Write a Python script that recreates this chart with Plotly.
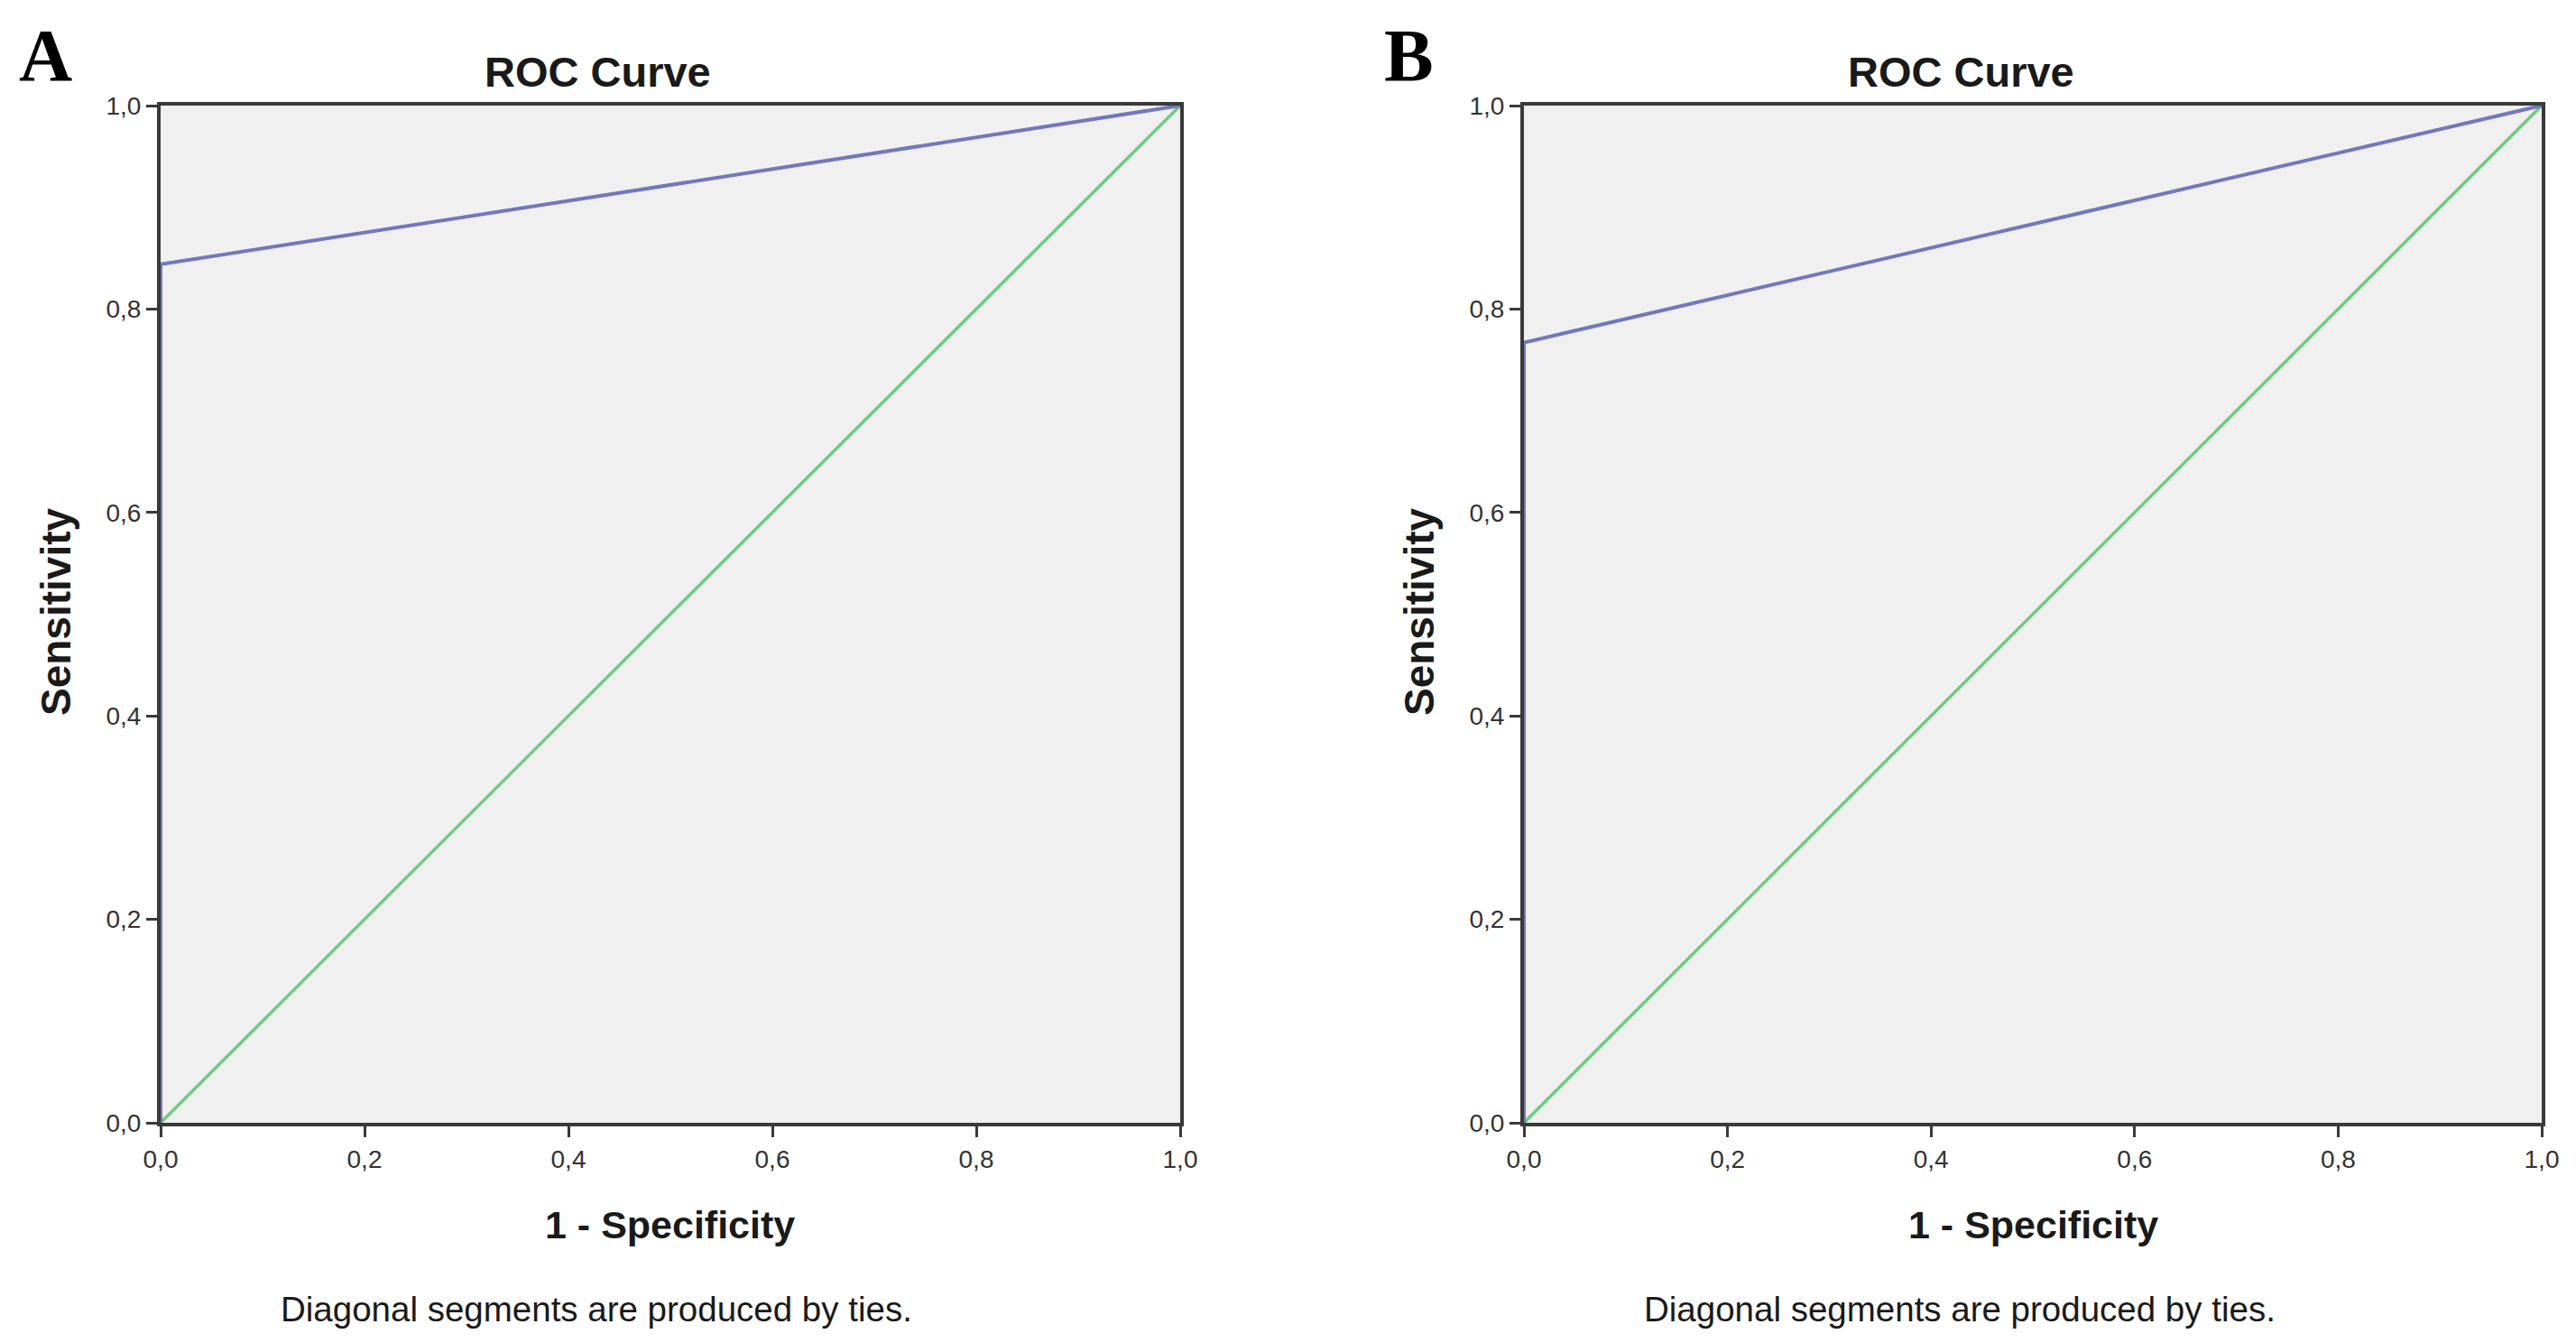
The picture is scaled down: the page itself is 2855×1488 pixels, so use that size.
import plotly.graph_objects as go

# ---- data ----
panels = ["A", "B"]
roc_fpr_A = [0.0, 0.0, 1.0]
roc_tpr_A = [0.0, 0.844, 1.0]
roc_fpr_B = [0.0, 0.0, 1.0]
roc_tpr_B = [0.0, 0.767, 1.0]
ref_x = [0.0, 1.0]
ref_y = [0.0, 1.0]
tick_vals = [0.0, 0.2, 0.4, 0.6, 0.8, 1.0]
chart_title = "ROC Curve"
x_title = "1 - Specificity"
y_title = "Sensitivity"
footnote = "Diagonal segments are produced by ties."

W, H = 2855, 1488
BLUE = "#7377bd"
GREEN = "#6fcb80"
AX = "#3a3a3a"
FONT = "Liberation Sans, Arial, sans-serif"

# the page body adds an 8px offset; compensate so targets land on screen pixels
OFF = 8


def px(x):
    return (x - OFF) / W


def py(y):
    return 1 - (y - OFF) / H


# plot area positions (target pixels)
xdomA = [px(178), px(1308)]
xdomB = [px(1689), px(2817)]
ydom = [py(1244), py(117)]

fig = go.Figure()

series = [(roc_fpr_A, roc_tpr_A, "x", "y"), (roc_fpr_B, roc_tpr_B, "x2", "y2")]
for fx, ty, xa, ya in series:
    fig.add_trace(go.Scatter(x=ref_x, y=ref_y, mode="lines", xaxis=xa, yaxis=ya,
                             line=dict(color=GREEN, width=3.5), hoverinfo="skip"))
    fig.add_trace(go.Scatter(x=fx, y=ty, mode="lines", xaxis=xa, yaxis=ya,
                             line=dict(color=BLUE, width=4), hoverinfo="skip"))

axis_common = dict(
    range=[0, 1], tickvals=tick_vals, tickformat=".1f",
    showgrid=False, zeroline=False,
    showline=True, mirror=True, linecolor=AX, linewidth=4,
    ticks="outside", ticklen=12, tickwidth=3, tickcolor=AX,
    tickfont=dict(family=FONT, size=28, color="#333333"),
    fixedrange=True, automargin=False,
)

fig.update_layout(
    width=W, height=H,
    margin=dict(l=0, r=0, t=0, b=0, pad=0),
    paper_bgcolor="white",
    plot_bgcolor="#f0f0f0",
    showlegend=False,
    separators=",.",
    xaxis=dict(domain=xdomA, anchor="y", **axis_common),
    yaxis=dict(domain=ydom, anchor="x", **axis_common),
    xaxis2=dict(domain=xdomB, anchor="y2", **axis_common),
    yaxis2=dict(domain=ydom, anchor="x2", **axis_common),
)

annotations = []
for letter, left in zip(panels, [178, 1689]):
    right = left + 1129
    cx = (left + right) / 2
    # panel letter
    annotations.append(dict(text=f"<b>{letter}</b>", x=px(left - 128), y=py(62),
                            xref="paper", yref="paper", xanchor="center", yanchor="middle",
                            showarrow=False,
                            font=dict(family="Liberation Serif, Times New Roman, serif", size=82, color="black")))
    # title
    annotations.append(dict(text=f"<b>{chart_title}</b>", x=px(left + 484), y=py(80),
                            xref="paper", yref="paper", xanchor="center", yanchor="middle",
                            showarrow=False, font=dict(family=FONT, size=47, color="#1a1a1a")))
    # x axis title
    annotations.append(dict(text=f"<b>{x_title}</b>", x=px(cx), y=py(1357),
                            xref="paper", yref="paper", xanchor="center", yanchor="middle",
                            showarrow=False, font=dict(family=FONT, size=43, color="#1a1a1a")))
    # y axis title
    annotations.append(dict(text=f"<b>{y_title}</b>", x=px(left - 116), y=py(678),
                            xref="paper", yref="paper", xanchor="center", yanchor="middle",
                            textangle=-90, showarrow=False,
                            font=dict(family=FONT, size=46, color="#1a1a1a")))
    # footnote
    annotations.append(dict(text=footnote, x=px(left + 483), y=py(1450),
                            xref="paper", yref="paper", xanchor="center", yanchor="middle",
                            showarrow=False, font=dict(family=FONT, size=38.5, color="#1a1a1a")))

fig.update_layout(annotations=annotations)

fig.write_html("out.html")
